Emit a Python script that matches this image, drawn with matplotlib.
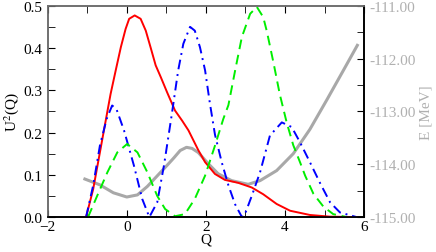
import matplotlib
matplotlib.use("Agg")
import matplotlib.pyplot as plt
from matplotlib.ticker import MultipleLocator, FormatStrFormatter

plt.rcParams['font.family'] = ['Liberation Serif', 'DejaVu Serif']
plt.rcParams['mathtext.fontset'] = 'stix'

# Red solid
q_red = [-1.03, -0.85, -0.68, -0.51, -0.41, -0.28, -0.15, -0.03, 0.06, 0.20, 0.35, 0.48, 0.60, 0.73,
         0.86, 1.02, 1.22, 1.40, 1.56, 1.81, 1.98, 2.23, 2.48, 2.82, 3.16, 3.45, 3.79, 4.13, 4.63,
         5.14, 5.81]
u_red = [0.0, 0.066, 0.153, 0.240, 0.291, 0.347, 0.402, 0.445, 0.469, 0.477, 0.469, 0.441, 0.402, 0.359,
         0.331, 0.295, 0.252, 0.228, 0.205, 0.158, 0.130, 0.102, 0.088, 0.081, 0.070, 0.054, 0.031, 0.015, 0.005,
         0.001, 0.0]

# Blue dash-dot
q_blue = [-1.03, -0.85, -0.68, -0.51, -0.37, -0.26, -0.07, 0.18, 0.39, 0.57, 0.77, 0.94, 1.13, 1.30,
          1.43, 1.60, 1.72, 1.85, 1.98, 2.10, 2.23, 2.40, 2.57, 2.74, 2.90, 2.96, 3.16, 3.37, 3.62,
          3.92, 4.17, 4.38, 4.63, 4.89, 5.14, 5.39, 5.81]
u_blue = [0.0, 0.075, 0.169, 0.232, 0.264, 0.255, 0.205, 0.122, 0.043, 0.0, 0.035, 0.122, 0.238, 0.347,
          0.410, 0.450, 0.441, 0.402, 0.347, 0.270, 0.195, 0.130, 0.075, 0.030, 0.002, 0.0, 0.050, 0.106, 0.193,
          0.224, 0.213, 0.177, 0.130, 0.080, 0.035, 0.011, 0.0]

# Green dashed
q_green = [-0.98, -0.75, -0.49, -0.24, 0.01, 0.27, 0.52, 0.77, 0.97, 1.22, 1.47, 1.72, 1.98, 2.23,
           2.44, 2.57, 2.74, 2.91, 3.12, 3.29, 3.45, 3.54, 3.71, 3.87, 4.04, 4.21, 4.38, 4.51, 4.72,
           4.97, 5.22, 5.56]
u_green = [0.0, 0.050, 0.106, 0.153, 0.173, 0.153, 0.106, 0.050, 0.019, 0.002, 0.007, 0.043, 0.098, 0.169,
           0.232, 0.265, 0.347, 0.426, 0.481, 0.497, 0.473, 0.440, 0.365, 0.290, 0.225, 0.170, 0.130, 0.098, 0.055,
           0.025, 0.007, 0.0]

# Gray energy curve (right axis, MeV)
q_gray = [-1.06, -0.68, -0.34, 0.0, 0.27, 0.52, 0.77, 1.02, 1.19, 1.35, 1.51, 1.65, 1.81, 2.06, 2.31,
          2.65, 3.07, 3.37, 3.79, 4.21, 4.63, 5.06, 5.48, 5.83]
e_gray = [-114.28, -114.39, -114.54, -114.62, -114.58, -114.42, -114.22, -114.02, -113.88, -113.74,
          -113.68, -113.70, -113.78, -113.99, -114.18, -114.31, -114.38, -114.31, -114.12, -113.80,
          -113.34, -112.78, -112.22, -111.75]

fig = plt.figure(figsize=(4.36, 2.53), dpi=100)
ax = fig.add_axes([0.1094, 0.138, 0.7256, 0.8355])
ax2 = ax.twinx()

ax2.plot(q_gray, e_gray, color='#a8a8a8', lw=2.2, zorder=1, solid_joinstyle='round')
ax2.set_ylim(-115, -111)

ax.set_zorder(ax2.get_zorder() + 1)
ax.patch.set_visible(False)
ax.plot(q_red, u_red, color='#ff0000', lw=1.4, solid_joinstyle='round')
ax.plot(q_blue, u_blue, color='#0000ff', lw=1.4, ls=(0, (5, 2.5, 1, 2.5)))
ax.plot(q_green, u_green, color='#00ee00', lw=1.4, ls=(0, (5, 3)))

ax.set_xlim(-2, 6)
ax.set_ylim(0, 0.5)
ax.xaxis.set_major_locator(MultipleLocator(2))
ax.xaxis.set_minor_locator(MultipleLocator(1))
ax.yaxis.set_major_locator(MultipleLocator(0.1))
ax.yaxis.set_minor_locator(MultipleLocator(0.05))
ax.yaxis.set_major_formatter(FormatStrFormatter('%.1f'))
ax.tick_params(axis='both', which='both', direction='in', labelsize=11, colors='black')
ax.tick_params(axis='x', which='both', top=True)
ax.tick_params(which='major', length=5)
ax.tick_params(which='minor', length=5)
ax.tick_params(axis='x', which='major', pad=2)

ax2.yaxis.set_major_locator(MultipleLocator(1))
ax2.yaxis.set_minor_locator(MultipleLocator(0.5))
ax2.yaxis.set_major_formatter(FormatStrFormatter('%.2f'))
ax2.tick_params(axis='y', which='both', direction='in', length=5, labelsize=11,
                labelcolor='#b0b0b0', color='black')

for a in (ax, ax2):
    for sp in a.spines.values():
        sp.set_linewidth(1.2)
    a.spines['left'].set_color('#707070')
    a.spines['top'].set_color('#707070')
    a.spines['right'].set_color('black')
    a.spines['bottom'].set_color('black')

ax.set_xlabel('Q', fontsize=11, labelpad=0)
ax.set_ylabel(r'U$^2$(Q)', fontsize=11, labelpad=2)
ax2.set_ylabel('E [MeV]', fontsize=11, color='#b0b0b0', labelpad=3)

fig.savefig('out.png', dpi=100)
